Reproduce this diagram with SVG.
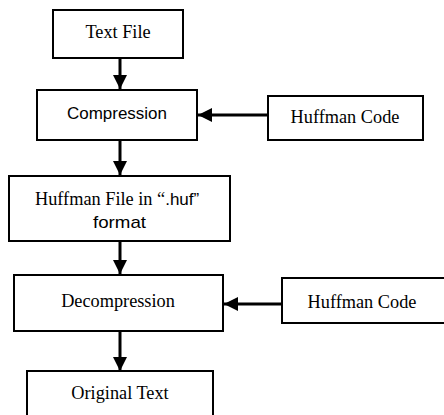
<svg xmlns="http://www.w3.org/2000/svg" width="444" height="415" viewBox="0 0 444 415">
<style>
.box{fill:#fff;stroke:#000;stroke-width:2}
.serif{font-family:"Liberation Serif","Times New Roman",serif;font-size:18.3px;fill:#000}
.sans{font-family:"Liberation Sans",Arial,sans-serif;font-size:17px;fill:#000}
.conn{stroke:#000;stroke-width:3;fill:none}
</style>
<defs>
<marker id="ah" viewBox="0 0 10 10" refX="10" refY="5" markerWidth="4.8" markerHeight="4.8" markerUnits="strokeWidth" orient="auto">
<path d="M0,0 L10,5 L0,10 Z" fill="#000"/>
</marker>
</defs>
<g id="connectors">
<line class="conn" x1="120" y1="58" x2="120" y2="89" marker-end="url(#ah)"/>
<line class="conn" x1="268" y1="115" x2="198" y2="115" marker-end="url(#ah)"/>
<line class="conn" x1="120" y1="140" x2="120" y2="175" marker-end="url(#ah)"/>
<line class="conn" x1="120" y1="242" x2="120" y2="274" marker-end="url(#ah)"/>
<line class="conn" x1="282" y1="304" x2="224" y2="304" marker-end="url(#ah)"/>
<line class="conn" x1="120" y1="331" x2="120" y2="371" marker-end="url(#ah)"/>
</g>
<g id="text-file">
<rect class="box" x="53" y="10" width="130" height="48"/>
<text class="serif" x="118" y="38" text-anchor="middle">Text File</text>
</g>
<g id="compression">
<rect class="box" x="37" y="90" width="160" height="50"/>
<text class="sans" x="117" y="119" text-anchor="middle" textLength="100" lengthAdjust="spacingAndGlyphs">Compression</text>
</g>
<g id="huffman-code-1">
<rect class="box" x="268" y="96" width="155" height="44"/>
<text class="serif" x="345" y="123" text-anchor="middle">Huffman Code</text>
</g>
<g id="huffman-file">
<rect class="box" x="9" y="176" width="221" height="65"/>
<text x="35" y="205"><tspan class="serif">Huffman File in “</tspan><tspan class="sans">.huf”</tspan></text>
<text class="sans" x="119.5" y="228" text-anchor="middle" textLength="53" lengthAdjust="spacingAndGlyphs">format</text>
</g>
<g id="decompression">
<rect class="box" x="14" y="275" width="209" height="56"/>
<text class="serif" x="118" y="307" text-anchor="middle">Decompression</text>
</g>
<g id="huffman-code-2">
<rect class="box" x="282" y="278" width="164" height="45"/>
<text class="serif" x="362" y="308" text-anchor="middle">Huffman Code</text>
</g>
<g id="original-text">
<rect class="box" x="27" y="371" width="186" height="50"/>
<text class="serif" x="120" y="399" text-anchor="middle">Original Text</text>
</g>
</svg>
